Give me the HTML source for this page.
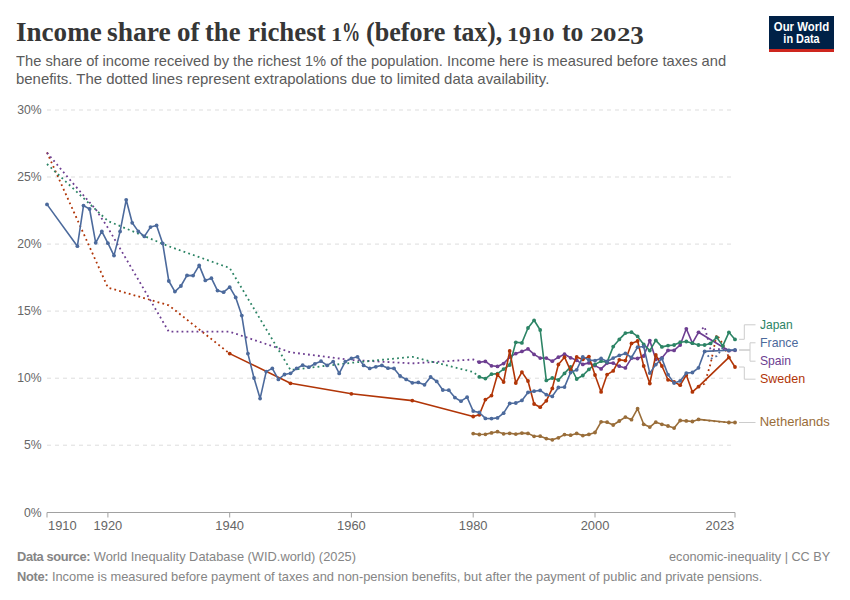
<!DOCTYPE html>
<html lang="en"><head><meta charset="utf-8"><title>Income share of the richest 1% (before tax), 1910 to 2023</title>
<style>
html,body{margin:0;padding:0;background:#fff;}
body{width:850px;height:600px;position:relative;overflow:hidden;font-family:"Liberation Sans",sans-serif;}
.abs{position:absolute;white-space:nowrap;}
.tw{position:absolute;top:0;white-space:nowrap;font-family:"Liberation Serif",serif;font-weight:bold;font-size:26.4px;line-height:32px;color:#363636;transform-origin:0 0;}
.os{display:inline-block;font-size:0.715em;transform:scaleX(1.32);transform-origin:0 0;margin-right:0.16em;}
.pc{display:inline-block;transform:scaleX(0.76);transform-origin:0 0;margin-right:-0.24em;}
.ds{position:relative;top:0.155em;font-size:0.95em;}
.sub{left:16.3px;font-size:14.5px;line-height:17px;color:#5b5b5b;transform-origin:0 0;}
#s1{transform:scaleX(1.0126);}#s2{transform:scaleX(1.03);}#f1{transform:scaleX(0.9869);transform-origin:0 0;}#f2{transform:scaleX(0.9758);transform-origin:100% 0;}#f3{transform:scaleX(0.988);transform-origin:0 0;}
.yl{left:0;width:41.7px;text-align:right;transform:scaleX(0.945);transform-origin:100% 0;font-size:12.9px;line-height:16px;color:#666;}
.xl{font-size:12.9px;line-height:16px;color:#666;top:518px;}
.lg{left:759.7px;font-size:13px;line-height:16px;transform-origin:0 0;}
.ft{font-size:13px;line-height:16px;color:#858585;}
.ft b{color:#858585;}
#logo{left:769px;top:16px;width:65px;height:33px;background:#002147;border-bottom:3px solid #ce261e;color:#fff;font-weight:bold;font-size:12px;line-height:12px;}
#logo div{position:absolute;left:0;width:65px;text-align:center;white-space:nowrap;}
</style></head><body>
<div class="abs" id="title" style="left:0;top:15.5px;width:700px;height:34px"><span class="tw" style="left:15.97px;transform:scaleX(1.0256)">Income</span><span class="tw" style="left:107.26px;transform:scaleX(1.045)">share</span><span class="tw" style="left:176.68px;transform:scaleX(1.0227)">of</span><span class="tw" style="left:204.7px;transform:scaleX(1.0086)">the</span><span class="tw" style="left:247.5px;transform:scaleX(1.0182)">richest</span><span class="tw" style="left:331.28px;transform:scaleX(0.9103)"><span class="os">1</span><span class="pc">%</span></span><span class="tw" style="left:366.21px;transform:scaleX(0.9899)">(before</span><span class="tw" style="left:453.2px;transform:scaleX(0.972)">tax),</span><span class="tw" style="left:507.18px;transform:scaleX(0.9596)"><span class="os">1</span><span class="ds">9</span><span class="os">1</span><span class="os">0</span></span><span class="tw" style="left:562.2px;transform:scaleX(0.9714)">to</span><span class="tw" style="left:589.82px;transform:scaleX(1.0792)"><span class="os">2</span><span class="os">0</span><span class="os">2</span><span class="ds">3</span></span></div>
<div class="abs sub" id="s1" style="top:53px">The share of income received by the richest 1% of the population. Income here is measured before taxes and</div>
<div class="abs sub" id="s2" style="top:71px">benefits. The dotted lines represent extrapolations due to limited data availability.</div>
<div class="abs" id="logo"><div style="top:4.6px;transform:scaleX(0.947)">Our World</div><div style="top:17.2px;transform:scaleX(0.906)">in Data</div></div>
<svg class="abs" style="left:0;top:0" width="850" height="600" viewBox="0 0 850 600">
<line x1="47" x2="735" y1="110.0" y2="110.0" stroke="#dddddd" stroke-width="1" stroke-dasharray="4,4"/>
<line x1="47" x2="735" y1="177.0" y2="177.0" stroke="#dddddd" stroke-width="1" stroke-dasharray="4,4"/>
<line x1="47" x2="735" y1="244.1" y2="244.1" stroke="#dddddd" stroke-width="1" stroke-dasharray="4,4"/>
<line x1="47" x2="735" y1="311.1" y2="311.1" stroke="#dddddd" stroke-width="1" stroke-dasharray="4,4"/>
<line x1="47" x2="735" y1="378.2" y2="378.2" stroke="#dddddd" stroke-width="1" stroke-dasharray="4,4"/>
<line x1="47" x2="735" y1="445.2" y2="445.2" stroke="#dddddd" stroke-width="1" stroke-dasharray="4,4"/>
<line x1="47" x2="735" y1="512.5" y2="512.5" stroke="#a1a1a1" stroke-width="1"/>
<line x1="47.0" x2="47.0" y1="512.5" y2="517.5" stroke="#a1a1a1" stroke-width="1"/>
<line x1="107.9" x2="107.9" y1="512.5" y2="517.5" stroke="#a1a1a1" stroke-width="1"/>
<line x1="229.7" x2="229.7" y1="512.5" y2="517.5" stroke="#a1a1a1" stroke-width="1"/>
<line x1="351.4" x2="351.4" y1="512.5" y2="517.5" stroke="#a1a1a1" stroke-width="1"/>
<line x1="473.2" x2="473.2" y1="512.5" y2="517.5" stroke="#a1a1a1" stroke-width="1"/>
<line x1="595.0" x2="595.0" y1="512.5" y2="517.5" stroke="#a1a1a1" stroke-width="1"/>
<line x1="735.0" x2="735.0" y1="512.5" y2="517.5" stroke="#a1a1a1" stroke-width="1"/>
<path d="M698.5,419.4 L704.6,420.2 L710.6,420.8 L716.7,421.5 L722.8,422.0 L728.9,422.5" fill="none" stroke="#996D39" stroke-width="1.8" stroke-dasharray="1.8,3.2" stroke-linecap="butt"/>
<path d="M47.0,152.4 L107.9,287.6 L168.8,305.3 L229.7,353.6" fill="none" stroke="#B13507" stroke-width="1.8" stroke-dasharray="1.8,3.2" stroke-linecap="butt"/>
<path d="M698.5,386.7 L704.6,383.7 L710.6,363.7 L716.7,334.6 L722.8,343.9 L728.9,357.4" fill="none" stroke="#B13507" stroke-width="1.8" stroke-dasharray="1.8,3.2" stroke-linecap="butt"/>
<path d="M47.0,152.7 L71.4,181.5 L95.7,209.3 L107.9,227.8 L168.8,331.7 L229.7,331.7 L290.5,352.3 L351.4,360.0 L412.3,363.4 L473.2,359.5 L479.3,362.2" fill="none" stroke="#6D3E91" stroke-width="1.8" stroke-dasharray="1.8,3.2" stroke-linecap="butt"/>
<path d="M698.5,332.3 L704.6,326.6 L710.6,350.0 L716.7,349.3 L722.8,349.0 L728.9,350.7" fill="none" stroke="#6D3E91" stroke-width="1.8" stroke-dasharray="1.8,3.2" stroke-linecap="butt"/>
<path d="M47.0,164.0 L107.9,221.0 L168.8,246.3 L229.7,268.0 L290.5,370.0 L351.4,362.8 L412.3,356.8 L473.2,372.0 L479.3,376.9" fill="none" stroke="#2C8465" stroke-width="1.8" stroke-dasharray="1.8,3.2" stroke-linecap="butt"/>
<path d="M704.6,351.4 L710.6,359.0 L716.7,356.0 L722.8,347.8 L728.9,350.3" fill="none" stroke="#4C6A9C" stroke-width="1.8" stroke-dasharray="1.8,3.2" stroke-linecap="butt"/>
<path d="M473.2,433.6 L479.3,434.5 L485.4,434.3 L491.5,432.9 L497.5,431.7 L503.6,433.8 L509.7,433.3 L515.8,434.1 L521.9,433.1 L528.0,433.4 L534.1,436.3 L540.2,436.2 L546.3,438.6 L552.3,439.8 L558.4,437.8 L564.5,434.6 L570.6,435.2 L576.7,433.4 L582.8,435.6 L588.9,434.4 L595.0,432.5 L601.1,421.8 L607.1,422.2 L613.2,425.0 L619.3,421.0 L625.4,417.1 L631.5,419.7 L637.6,408.7 L643.7,424.3 L649.8,427.1 L655.8,422.2 L661.9,424.3 L668.0,426.0 L674.1,428.1 L680.2,420.5 L686.3,420.9 L692.4,421.5 L698.5,419.4 L728.9,422.5 L735.0,422.5" fill="none" stroke="#996D39" stroke-width="1.6" stroke-linejoin="round" stroke-linecap="round"/><circle cx="473.2" cy="433.6" r="1.9" fill="#996D39"/><circle cx="479.3" cy="434.5" r="1.9" fill="#996D39"/><circle cx="485.4" cy="434.3" r="1.9" fill="#996D39"/><circle cx="491.5" cy="432.9" r="1.9" fill="#996D39"/><circle cx="497.5" cy="431.7" r="1.9" fill="#996D39"/><circle cx="503.6" cy="433.8" r="1.9" fill="#996D39"/><circle cx="509.7" cy="433.3" r="1.9" fill="#996D39"/><circle cx="515.8" cy="434.1" r="1.9" fill="#996D39"/><circle cx="521.9" cy="433.1" r="1.9" fill="#996D39"/><circle cx="528.0" cy="433.4" r="1.9" fill="#996D39"/><circle cx="534.1" cy="436.3" r="1.9" fill="#996D39"/><circle cx="540.2" cy="436.2" r="1.9" fill="#996D39"/><circle cx="546.3" cy="438.6" r="1.9" fill="#996D39"/><circle cx="552.3" cy="439.8" r="1.9" fill="#996D39"/><circle cx="558.4" cy="437.8" r="1.9" fill="#996D39"/><circle cx="564.5" cy="434.6" r="1.9" fill="#996D39"/><circle cx="570.6" cy="435.2" r="1.9" fill="#996D39"/><circle cx="576.7" cy="433.4" r="1.9" fill="#996D39"/><circle cx="582.8" cy="435.6" r="1.9" fill="#996D39"/><circle cx="588.9" cy="434.4" r="1.9" fill="#996D39"/><circle cx="595.0" cy="432.5" r="1.9" fill="#996D39"/><circle cx="601.1" cy="421.8" r="1.9" fill="#996D39"/><circle cx="607.1" cy="422.2" r="1.9" fill="#996D39"/><circle cx="613.2" cy="425.0" r="1.9" fill="#996D39"/><circle cx="619.3" cy="421.0" r="1.9" fill="#996D39"/><circle cx="625.4" cy="417.1" r="1.9" fill="#996D39"/><circle cx="631.5" cy="419.7" r="1.9" fill="#996D39"/><circle cx="637.6" cy="408.7" r="1.9" fill="#996D39"/><circle cx="643.7" cy="424.3" r="1.9" fill="#996D39"/><circle cx="649.8" cy="427.1" r="1.9" fill="#996D39"/><circle cx="655.8" cy="422.2" r="1.9" fill="#996D39"/><circle cx="661.9" cy="424.3" r="1.9" fill="#996D39"/><circle cx="668.0" cy="426.0" r="1.9" fill="#996D39"/><circle cx="674.1" cy="428.1" r="1.9" fill="#996D39"/><circle cx="680.2" cy="420.5" r="1.9" fill="#996D39"/><circle cx="686.3" cy="420.9" r="1.9" fill="#996D39"/><circle cx="692.4" cy="421.5" r="1.9" fill="#996D39"/><circle cx="698.5" cy="419.4" r="1.9" fill="#996D39"/><circle cx="728.9" cy="422.5" r="1.9" fill="#996D39"/><circle cx="735.0" cy="422.5" r="1.9" fill="#996D39"/>
<path d="M479.3,362.2 L485.4,361.4 L491.5,365.8 L497.5,366.4 L503.6,363.6 L509.7,357.0 L515.8,353.6 L521.9,351.4 L528.0,348.9 L534.1,354.4 L540.2,358.1 L546.3,358.1 L552.3,361.2 L558.4,357.2 L564.5,354.2 L570.6,357.8 L576.7,360.3 L582.8,364.4 L588.9,362.9 L595.0,365.6 L601.1,368.9 L607.1,363.1 L613.2,363.1 L619.3,366.2 L625.4,367.9 L631.5,358.1 L637.6,358.5 L643.7,356.0 L649.8,340.6 L655.8,359.4 L661.9,358.0 L668.0,350.4 L674.1,350.4 L680.2,345.0 L686.3,328.8 L692.4,343.1 L698.5,332.3 L728.9,350.7 L735.0,350.3" fill="none" stroke="#6D3E91" stroke-width="1.6" stroke-linejoin="round" stroke-linecap="round"/><circle cx="479.3" cy="362.2" r="1.9" fill="#6D3E91"/><circle cx="485.4" cy="361.4" r="1.9" fill="#6D3E91"/><circle cx="491.5" cy="365.8" r="1.9" fill="#6D3E91"/><circle cx="497.5" cy="366.4" r="1.9" fill="#6D3E91"/><circle cx="503.6" cy="363.6" r="1.9" fill="#6D3E91"/><circle cx="509.7" cy="357.0" r="1.9" fill="#6D3E91"/><circle cx="515.8" cy="353.6" r="1.9" fill="#6D3E91"/><circle cx="521.9" cy="351.4" r="1.9" fill="#6D3E91"/><circle cx="528.0" cy="348.9" r="1.9" fill="#6D3E91"/><circle cx="534.1" cy="354.4" r="1.9" fill="#6D3E91"/><circle cx="540.2" cy="358.1" r="1.9" fill="#6D3E91"/><circle cx="546.3" cy="358.1" r="1.9" fill="#6D3E91"/><circle cx="552.3" cy="361.2" r="1.9" fill="#6D3E91"/><circle cx="558.4" cy="357.2" r="1.9" fill="#6D3E91"/><circle cx="564.5" cy="354.2" r="1.9" fill="#6D3E91"/><circle cx="570.6" cy="357.8" r="1.9" fill="#6D3E91"/><circle cx="576.7" cy="360.3" r="1.9" fill="#6D3E91"/><circle cx="582.8" cy="364.4" r="1.9" fill="#6D3E91"/><circle cx="588.9" cy="362.9" r="1.9" fill="#6D3E91"/><circle cx="595.0" cy="365.6" r="1.9" fill="#6D3E91"/><circle cx="601.1" cy="368.9" r="1.9" fill="#6D3E91"/><circle cx="607.1" cy="363.1" r="1.9" fill="#6D3E91"/><circle cx="613.2" cy="363.1" r="1.9" fill="#6D3E91"/><circle cx="619.3" cy="366.2" r="1.9" fill="#6D3E91"/><circle cx="625.4" cy="367.9" r="1.9" fill="#6D3E91"/><circle cx="631.5" cy="358.1" r="1.9" fill="#6D3E91"/><circle cx="637.6" cy="358.5" r="1.9" fill="#6D3E91"/><circle cx="643.7" cy="356.0" r="1.9" fill="#6D3E91"/><circle cx="649.8" cy="340.6" r="1.9" fill="#6D3E91"/><circle cx="655.8" cy="359.4" r="1.9" fill="#6D3E91"/><circle cx="661.9" cy="358.0" r="1.9" fill="#6D3E91"/><circle cx="668.0" cy="350.4" r="1.9" fill="#6D3E91"/><circle cx="674.1" cy="350.4" r="1.9" fill="#6D3E91"/><circle cx="680.2" cy="345.0" r="1.9" fill="#6D3E91"/><circle cx="686.3" cy="328.8" r="1.9" fill="#6D3E91"/><circle cx="692.4" cy="343.1" r="1.9" fill="#6D3E91"/><circle cx="698.5" cy="332.3" r="1.9" fill="#6D3E91"/><circle cx="728.9" cy="350.7" r="1.9" fill="#6D3E91"/><circle cx="735.0" cy="350.3" r="1.9" fill="#6D3E91"/>
<path d="M479.3,376.9 L485.4,378.6 L491.5,374.2 L497.5,373.6 L503.6,369.1 L509.7,365.0 L515.8,342.3 L521.9,342.9 L528.0,328.0 L534.1,320.3 L540.2,330.0 L546.3,380.4 L552.3,378.0 L558.4,380.0 L564.5,373.4 L570.6,366.9 L576.7,379.0 L582.8,375.5 L588.9,369.4 L595.0,364.4 L601.1,361.2 L607.1,362.1 L613.2,346.6 L619.3,339.4 L625.4,333.1 L631.5,332.2 L637.6,336.4 L643.7,344.4 L649.8,350.6 L655.8,340.4 L661.9,346.9 L668.0,345.6 L674.1,345.0 L680.2,342.2 L686.3,341.5 L692.4,343.2 L698.5,345.0 L704.6,345.0 L710.6,343.4 L716.7,337.4 L722.8,345.9 L728.9,332.3 L735.0,339.4" fill="none" stroke="#2C8465" stroke-width="1.6" stroke-linejoin="round" stroke-linecap="round"/><circle cx="479.3" cy="376.9" r="1.9" fill="#2C8465"/><circle cx="485.4" cy="378.6" r="1.9" fill="#2C8465"/><circle cx="491.5" cy="374.2" r="1.9" fill="#2C8465"/><circle cx="497.5" cy="373.6" r="1.9" fill="#2C8465"/><circle cx="503.6" cy="369.1" r="1.9" fill="#2C8465"/><circle cx="509.7" cy="365.0" r="1.9" fill="#2C8465"/><circle cx="515.8" cy="342.3" r="1.9" fill="#2C8465"/><circle cx="521.9" cy="342.9" r="1.9" fill="#2C8465"/><circle cx="528.0" cy="328.0" r="1.9" fill="#2C8465"/><circle cx="534.1" cy="320.3" r="1.9" fill="#2C8465"/><circle cx="540.2" cy="330.0" r="1.9" fill="#2C8465"/><circle cx="546.3" cy="380.4" r="1.9" fill="#2C8465"/><circle cx="552.3" cy="378.0" r="1.9" fill="#2C8465"/><circle cx="558.4" cy="380.0" r="1.9" fill="#2C8465"/><circle cx="564.5" cy="373.4" r="1.9" fill="#2C8465"/><circle cx="570.6" cy="366.9" r="1.9" fill="#2C8465"/><circle cx="576.7" cy="379.0" r="1.9" fill="#2C8465"/><circle cx="582.8" cy="375.5" r="1.9" fill="#2C8465"/><circle cx="588.9" cy="369.4" r="1.9" fill="#2C8465"/><circle cx="595.0" cy="364.4" r="1.9" fill="#2C8465"/><circle cx="601.1" cy="361.2" r="1.9" fill="#2C8465"/><circle cx="607.1" cy="362.1" r="1.9" fill="#2C8465"/><circle cx="613.2" cy="346.6" r="1.9" fill="#2C8465"/><circle cx="619.3" cy="339.4" r="1.9" fill="#2C8465"/><circle cx="625.4" cy="333.1" r="1.9" fill="#2C8465"/><circle cx="631.5" cy="332.2" r="1.9" fill="#2C8465"/><circle cx="637.6" cy="336.4" r="1.9" fill="#2C8465"/><circle cx="643.7" cy="344.4" r="1.9" fill="#2C8465"/><circle cx="649.8" cy="350.6" r="1.9" fill="#2C8465"/><circle cx="655.8" cy="340.4" r="1.9" fill="#2C8465"/><circle cx="661.9" cy="346.9" r="1.9" fill="#2C8465"/><circle cx="668.0" cy="345.6" r="1.9" fill="#2C8465"/><circle cx="674.1" cy="345.0" r="1.9" fill="#2C8465"/><circle cx="680.2" cy="342.2" r="1.9" fill="#2C8465"/><circle cx="686.3" cy="341.5" r="1.9" fill="#2C8465"/><circle cx="692.4" cy="343.2" r="1.9" fill="#2C8465"/><circle cx="698.5" cy="345.0" r="1.9" fill="#2C8465"/><circle cx="704.6" cy="345.0" r="1.9" fill="#2C8465"/><circle cx="710.6" cy="343.4" r="1.9" fill="#2C8465"/><circle cx="716.7" cy="337.4" r="1.9" fill="#2C8465"/><circle cx="722.8" cy="345.9" r="1.9" fill="#2C8465"/><circle cx="728.9" cy="332.3" r="1.9" fill="#2C8465"/><circle cx="735.0" cy="339.4" r="1.9" fill="#2C8465"/>
<path d="M229.7,353.6 L290.5,383.3 L351.4,393.8 L412.3,400.6 L473.2,416.5 L479.3,414.8 L485.4,399.6 L491.5,395.6 L497.5,374.5 L503.6,382.0 L509.7,350.9 L515.8,383.0 L521.9,372.1 L528.0,381.0 L534.1,404.0 L540.2,407.2 L546.3,400.8 L552.3,388.4 L558.4,364.5 L564.5,357.2 L570.6,370.6 L576.7,356.9 L582.8,359.4 L588.9,356.6 L595.0,375.0 L601.1,391.9 L607.1,374.6 L613.2,370.9 L619.3,359.8 L625.4,360.6 L631.5,343.4 L637.6,341.0 L643.7,366.0 L649.8,383.5 L655.8,355.0 L661.9,366.0 L668.0,379.8 L674.1,381.9 L680.2,385.2 L686.3,375.0 L692.4,391.9 L698.5,386.7 L728.9,357.4 L735.0,367.0" fill="none" stroke="#B13507" stroke-width="1.6" stroke-linejoin="round" stroke-linecap="round"/><circle cx="229.7" cy="353.6" r="1.9" fill="#B13507"/><circle cx="290.5" cy="383.3" r="1.9" fill="#B13507"/><circle cx="351.4" cy="393.8" r="1.9" fill="#B13507"/><circle cx="412.3" cy="400.6" r="1.9" fill="#B13507"/><circle cx="473.2" cy="416.5" r="1.9" fill="#B13507"/><circle cx="479.3" cy="414.8" r="1.9" fill="#B13507"/><circle cx="485.4" cy="399.6" r="1.9" fill="#B13507"/><circle cx="491.5" cy="395.6" r="1.9" fill="#B13507"/><circle cx="497.5" cy="374.5" r="1.9" fill="#B13507"/><circle cx="503.6" cy="382.0" r="1.9" fill="#B13507"/><circle cx="509.7" cy="350.9" r="1.9" fill="#B13507"/><circle cx="515.8" cy="383.0" r="1.9" fill="#B13507"/><circle cx="521.9" cy="372.1" r="1.9" fill="#B13507"/><circle cx="528.0" cy="381.0" r="1.9" fill="#B13507"/><circle cx="534.1" cy="404.0" r="1.9" fill="#B13507"/><circle cx="540.2" cy="407.2" r="1.9" fill="#B13507"/><circle cx="546.3" cy="400.8" r="1.9" fill="#B13507"/><circle cx="552.3" cy="388.4" r="1.9" fill="#B13507"/><circle cx="558.4" cy="364.5" r="1.9" fill="#B13507"/><circle cx="564.5" cy="357.2" r="1.9" fill="#B13507"/><circle cx="570.6" cy="370.6" r="1.9" fill="#B13507"/><circle cx="576.7" cy="356.9" r="1.9" fill="#B13507"/><circle cx="582.8" cy="359.4" r="1.9" fill="#B13507"/><circle cx="588.9" cy="356.6" r="1.9" fill="#B13507"/><circle cx="595.0" cy="375.0" r="1.9" fill="#B13507"/><circle cx="601.1" cy="391.9" r="1.9" fill="#B13507"/><circle cx="607.1" cy="374.6" r="1.9" fill="#B13507"/><circle cx="613.2" cy="370.9" r="1.9" fill="#B13507"/><circle cx="619.3" cy="359.8" r="1.9" fill="#B13507"/><circle cx="625.4" cy="360.6" r="1.9" fill="#B13507"/><circle cx="631.5" cy="343.4" r="1.9" fill="#B13507"/><circle cx="637.6" cy="341.0" r="1.9" fill="#B13507"/><circle cx="643.7" cy="366.0" r="1.9" fill="#B13507"/><circle cx="649.8" cy="383.5" r="1.9" fill="#B13507"/><circle cx="655.8" cy="355.0" r="1.9" fill="#B13507"/><circle cx="661.9" cy="366.0" r="1.9" fill="#B13507"/><circle cx="668.0" cy="379.8" r="1.9" fill="#B13507"/><circle cx="674.1" cy="381.9" r="1.9" fill="#B13507"/><circle cx="680.2" cy="385.2" r="1.9" fill="#B13507"/><circle cx="686.3" cy="375.0" r="1.9" fill="#B13507"/><circle cx="692.4" cy="391.9" r="1.9" fill="#B13507"/><circle cx="698.5" cy="386.7" r="1.9" fill="#B13507"/><circle cx="728.9" cy="357.4" r="1.9" fill="#B13507"/><circle cx="735.0" cy="367.0" r="1.9" fill="#B13507"/>
<path d="M47.0,204.4 L77.4,246.2 L83.5,205.6 L89.6,209.0 L95.7,242.8 L101.8,231.4 L107.9,243.2 L114.0,255.6 L120.1,231.4 L126.2,199.8 L132.2,222.8 L138.3,231.4 L144.4,236.4 L150.5,227.1 L156.6,225.4 L162.7,243.4 L168.8,281.0 L174.9,291.6 L180.9,286.0 L187.0,275.4 L193.1,275.6 L199.2,265.4 L205.3,280.4 L211.4,278.2 L217.5,290.6 L223.6,292.2 L229.7,287.2 L235.7,297.4 L241.8,315.6 L247.9,353.6 L254.0,378.0 L260.1,398.6 L266.2,371.6 L272.3,368.4 L278.4,379.4 L284.5,374.5 L290.5,373.3 L296.6,368.4 L302.7,365.2 L308.8,367.2 L314.9,363.8 L321.0,361.2 L327.1,365.4 L333.2,361.6 L339.2,373.4 L345.3,361.6 L351.4,358.4 L357.5,356.8 L363.6,365.4 L369.7,368.4 L375.8,366.8 L381.9,365.4 L388.0,368.2 L394.0,368.4 L400.1,376.0 L406.2,379.4 L412.3,382.8 L418.4,382.4 L424.5,384.8 L430.6,377.0 L436.7,381.4 L442.8,390.0 L448.8,390.2 L454.9,397.6 L461.0,401.2 L467.1,397.2 L473.2,411.1 L479.3,412.5 L485.4,418.4 L491.5,418.6 L497.5,417.9 L503.6,413.2 L509.7,403.4 L515.8,403.0 L521.9,400.4 L528.0,392.4 L534.1,391.2 L540.2,390.4 L546.3,394.7 L552.3,396.4 L558.4,387.5 L564.5,387.1 L570.6,372.5 L576.7,369.8 L582.8,356.9 L588.9,360.0 L595.0,360.6 L601.1,358.4 L607.1,361.5 L613.2,358.1 L619.3,355.4 L625.4,353.4 L631.5,357.5 L637.6,347.2 L643.7,346.5 L649.8,373.1 L655.8,364.6 L661.9,358.5 L668.0,374.6 L674.1,383.1 L680.2,380.9 L686.3,373.1 L692.4,372.5 L698.5,367.8 L704.6,351.4 L728.9,350.3 L735.0,349.9" fill="none" stroke="#4C6A9C" stroke-width="1.6" stroke-linejoin="round" stroke-linecap="round"/><circle cx="47.0" cy="204.4" r="1.9" fill="#4C6A9C"/><circle cx="77.4" cy="246.2" r="1.9" fill="#4C6A9C"/><circle cx="83.5" cy="205.6" r="1.9" fill="#4C6A9C"/><circle cx="89.6" cy="209.0" r="1.9" fill="#4C6A9C"/><circle cx="95.7" cy="242.8" r="1.9" fill="#4C6A9C"/><circle cx="101.8" cy="231.4" r="1.9" fill="#4C6A9C"/><circle cx="107.9" cy="243.2" r="1.9" fill="#4C6A9C"/><circle cx="114.0" cy="255.6" r="1.9" fill="#4C6A9C"/><circle cx="120.1" cy="231.4" r="1.9" fill="#4C6A9C"/><circle cx="126.2" cy="199.8" r="1.9" fill="#4C6A9C"/><circle cx="132.2" cy="222.8" r="1.9" fill="#4C6A9C"/><circle cx="138.3" cy="231.4" r="1.9" fill="#4C6A9C"/><circle cx="144.4" cy="236.4" r="1.9" fill="#4C6A9C"/><circle cx="150.5" cy="227.1" r="1.9" fill="#4C6A9C"/><circle cx="156.6" cy="225.4" r="1.9" fill="#4C6A9C"/><circle cx="162.7" cy="243.4" r="1.9" fill="#4C6A9C"/><circle cx="168.8" cy="281.0" r="1.9" fill="#4C6A9C"/><circle cx="174.9" cy="291.6" r="1.9" fill="#4C6A9C"/><circle cx="180.9" cy="286.0" r="1.9" fill="#4C6A9C"/><circle cx="187.0" cy="275.4" r="1.9" fill="#4C6A9C"/><circle cx="193.1" cy="275.6" r="1.9" fill="#4C6A9C"/><circle cx="199.2" cy="265.4" r="1.9" fill="#4C6A9C"/><circle cx="205.3" cy="280.4" r="1.9" fill="#4C6A9C"/><circle cx="211.4" cy="278.2" r="1.9" fill="#4C6A9C"/><circle cx="217.5" cy="290.6" r="1.9" fill="#4C6A9C"/><circle cx="223.6" cy="292.2" r="1.9" fill="#4C6A9C"/><circle cx="229.7" cy="287.2" r="1.9" fill="#4C6A9C"/><circle cx="235.7" cy="297.4" r="1.9" fill="#4C6A9C"/><circle cx="241.8" cy="315.6" r="1.9" fill="#4C6A9C"/><circle cx="247.9" cy="353.6" r="1.9" fill="#4C6A9C"/><circle cx="254.0" cy="378.0" r="1.9" fill="#4C6A9C"/><circle cx="260.1" cy="398.6" r="1.9" fill="#4C6A9C"/><circle cx="266.2" cy="371.6" r="1.9" fill="#4C6A9C"/><circle cx="272.3" cy="368.4" r="1.9" fill="#4C6A9C"/><circle cx="278.4" cy="379.4" r="1.9" fill="#4C6A9C"/><circle cx="284.5" cy="374.5" r="1.9" fill="#4C6A9C"/><circle cx="290.5" cy="373.3" r="1.9" fill="#4C6A9C"/><circle cx="296.6" cy="368.4" r="1.9" fill="#4C6A9C"/><circle cx="302.7" cy="365.2" r="1.9" fill="#4C6A9C"/><circle cx="308.8" cy="367.2" r="1.9" fill="#4C6A9C"/><circle cx="314.9" cy="363.8" r="1.9" fill="#4C6A9C"/><circle cx="321.0" cy="361.2" r="1.9" fill="#4C6A9C"/><circle cx="327.1" cy="365.4" r="1.9" fill="#4C6A9C"/><circle cx="333.2" cy="361.6" r="1.9" fill="#4C6A9C"/><circle cx="339.2" cy="373.4" r="1.9" fill="#4C6A9C"/><circle cx="345.3" cy="361.6" r="1.9" fill="#4C6A9C"/><circle cx="351.4" cy="358.4" r="1.9" fill="#4C6A9C"/><circle cx="357.5" cy="356.8" r="1.9" fill="#4C6A9C"/><circle cx="363.6" cy="365.4" r="1.9" fill="#4C6A9C"/><circle cx="369.7" cy="368.4" r="1.9" fill="#4C6A9C"/><circle cx="375.8" cy="366.8" r="1.9" fill="#4C6A9C"/><circle cx="381.9" cy="365.4" r="1.9" fill="#4C6A9C"/><circle cx="388.0" cy="368.2" r="1.9" fill="#4C6A9C"/><circle cx="394.0" cy="368.4" r="1.9" fill="#4C6A9C"/><circle cx="400.1" cy="376.0" r="1.9" fill="#4C6A9C"/><circle cx="406.2" cy="379.4" r="1.9" fill="#4C6A9C"/><circle cx="412.3" cy="382.8" r="1.9" fill="#4C6A9C"/><circle cx="418.4" cy="382.4" r="1.9" fill="#4C6A9C"/><circle cx="424.5" cy="384.8" r="1.9" fill="#4C6A9C"/><circle cx="430.6" cy="377.0" r="1.9" fill="#4C6A9C"/><circle cx="436.7" cy="381.4" r="1.9" fill="#4C6A9C"/><circle cx="442.8" cy="390.0" r="1.9" fill="#4C6A9C"/><circle cx="448.8" cy="390.2" r="1.9" fill="#4C6A9C"/><circle cx="454.9" cy="397.6" r="1.9" fill="#4C6A9C"/><circle cx="461.0" cy="401.2" r="1.9" fill="#4C6A9C"/><circle cx="467.1" cy="397.2" r="1.9" fill="#4C6A9C"/><circle cx="473.2" cy="411.1" r="1.9" fill="#4C6A9C"/><circle cx="479.3" cy="412.5" r="1.9" fill="#4C6A9C"/><circle cx="485.4" cy="418.4" r="1.9" fill="#4C6A9C"/><circle cx="491.5" cy="418.6" r="1.9" fill="#4C6A9C"/><circle cx="497.5" cy="417.9" r="1.9" fill="#4C6A9C"/><circle cx="503.6" cy="413.2" r="1.9" fill="#4C6A9C"/><circle cx="509.7" cy="403.4" r="1.9" fill="#4C6A9C"/><circle cx="515.8" cy="403.0" r="1.9" fill="#4C6A9C"/><circle cx="521.9" cy="400.4" r="1.9" fill="#4C6A9C"/><circle cx="528.0" cy="392.4" r="1.9" fill="#4C6A9C"/><circle cx="534.1" cy="391.2" r="1.9" fill="#4C6A9C"/><circle cx="540.2" cy="390.4" r="1.9" fill="#4C6A9C"/><circle cx="546.3" cy="394.7" r="1.9" fill="#4C6A9C"/><circle cx="552.3" cy="396.4" r="1.9" fill="#4C6A9C"/><circle cx="558.4" cy="387.5" r="1.9" fill="#4C6A9C"/><circle cx="564.5" cy="387.1" r="1.9" fill="#4C6A9C"/><circle cx="570.6" cy="372.5" r="1.9" fill="#4C6A9C"/><circle cx="576.7" cy="369.8" r="1.9" fill="#4C6A9C"/><circle cx="582.8" cy="356.9" r="1.9" fill="#4C6A9C"/><circle cx="588.9" cy="360.0" r="1.9" fill="#4C6A9C"/><circle cx="595.0" cy="360.6" r="1.9" fill="#4C6A9C"/><circle cx="601.1" cy="358.4" r="1.9" fill="#4C6A9C"/><circle cx="607.1" cy="361.5" r="1.9" fill="#4C6A9C"/><circle cx="613.2" cy="358.1" r="1.9" fill="#4C6A9C"/><circle cx="619.3" cy="355.4" r="1.9" fill="#4C6A9C"/><circle cx="625.4" cy="353.4" r="1.9" fill="#4C6A9C"/><circle cx="631.5" cy="357.5" r="1.9" fill="#4C6A9C"/><circle cx="637.6" cy="347.2" r="1.9" fill="#4C6A9C"/><circle cx="643.7" cy="346.5" r="1.9" fill="#4C6A9C"/><circle cx="649.8" cy="373.1" r="1.9" fill="#4C6A9C"/><circle cx="655.8" cy="364.6" r="1.9" fill="#4C6A9C"/><circle cx="661.9" cy="358.5" r="1.9" fill="#4C6A9C"/><circle cx="668.0" cy="374.6" r="1.9" fill="#4C6A9C"/><circle cx="674.1" cy="383.1" r="1.9" fill="#4C6A9C"/><circle cx="680.2" cy="380.9" r="1.9" fill="#4C6A9C"/><circle cx="686.3" cy="373.1" r="1.9" fill="#4C6A9C"/><circle cx="692.4" cy="372.5" r="1.9" fill="#4C6A9C"/><circle cx="698.5" cy="367.8" r="1.9" fill="#4C6A9C"/><circle cx="704.6" cy="351.4" r="1.9" fill="#4C6A9C"/><circle cx="728.9" cy="350.3" r="1.9" fill="#4C6A9C"/><circle cx="735.0" cy="349.9" r="1.9" fill="#4C6A9C"/>
<path d="M739,339.3 H744.3 V324.8 H755.5" fill="none" stroke="#cccccc" stroke-width="1"/>
<path d="M739,350 H750 V342.8 H755.5" fill="none" stroke="#cccccc" stroke-width="1"/>
<path d="M739,350 H750 V361.2 H755.5" fill="none" stroke="#cccccc" stroke-width="1"/>
<path d="M739,367 H744.3 V379.2 H755.5" fill="none" stroke="#cccccc" stroke-width="1"/>
<path d="M739,422.5 H755.5" fill="none" stroke="#cccccc" stroke-width="1"/>
</svg>
<div class="abs yl" style="top:101.5px">30%</div>
<div class="abs yl" style="top:168.7px">25%</div>
<div class="abs yl" style="top:235.8px">20%</div>
<div class="abs yl" style="top:303.0px">15%</div>
<div class="abs yl" style="top:370.2px">10%</div>
<div class="abs yl" style="top:437.3px">5%</div>
<div class="abs yl" style="top:504.5px">0%</div>
<div class="abs xl" style="left:77.9px;width:60px;text-align:center">1920</div>
<div class="abs xl" style="left:199.7px;width:60px;text-align:center">1940</div>
<div class="abs xl" style="left:321.4px;width:60px;text-align:center">1960</div>
<div class="abs xl" style="left:443.2px;width:60px;text-align:center">1980</div>
<div class="abs xl" style="left:565.0px;width:60px;text-align:center">2000</div>
<div class="abs xl" style="left:48px">1910</div>
<div class="abs xl" style="left:674.3px;width:60px;text-align:right">2023</div>
<div class="abs lg" style="top:316.8px;color:#2C8465;transform:scaleX(0.924)">Japan</div>
<div class="abs lg" style="top:334.8px;color:#4C6A9C;transform:scaleX(0.948)">France</div>
<div class="abs lg" style="top:353.2px;color:#6D3E91;transform:scaleX(0.934)">Spain</div>
<div class="abs lg" style="top:371.2px;color:#B13507;transform:scaleX(0.96)">Sweden</div>
<div class="abs lg" style="top:414.4px;color:#996D39;transform:scaleX(1.0)">Netherlands</div>
<div class="abs ft" id="f1" style="left:16.5px;top:548.5px"><b style="letter-spacing:-0.38px">Data source:</b> World Inequality Database (WID.world) (2025)</div>
<div class="abs ft" id="f2" style="right:20px;top:548.5px">economic-inequality | CC BY</div>
<div class="abs ft" id="f3" style="left:16.5px;top:568.5px"><b style="letter-spacing:-0.3px">Note:</b> Income is measured before payment of taxes and non-pension benefits, but after the payment of public and private pensions.</div>
</body></html>
